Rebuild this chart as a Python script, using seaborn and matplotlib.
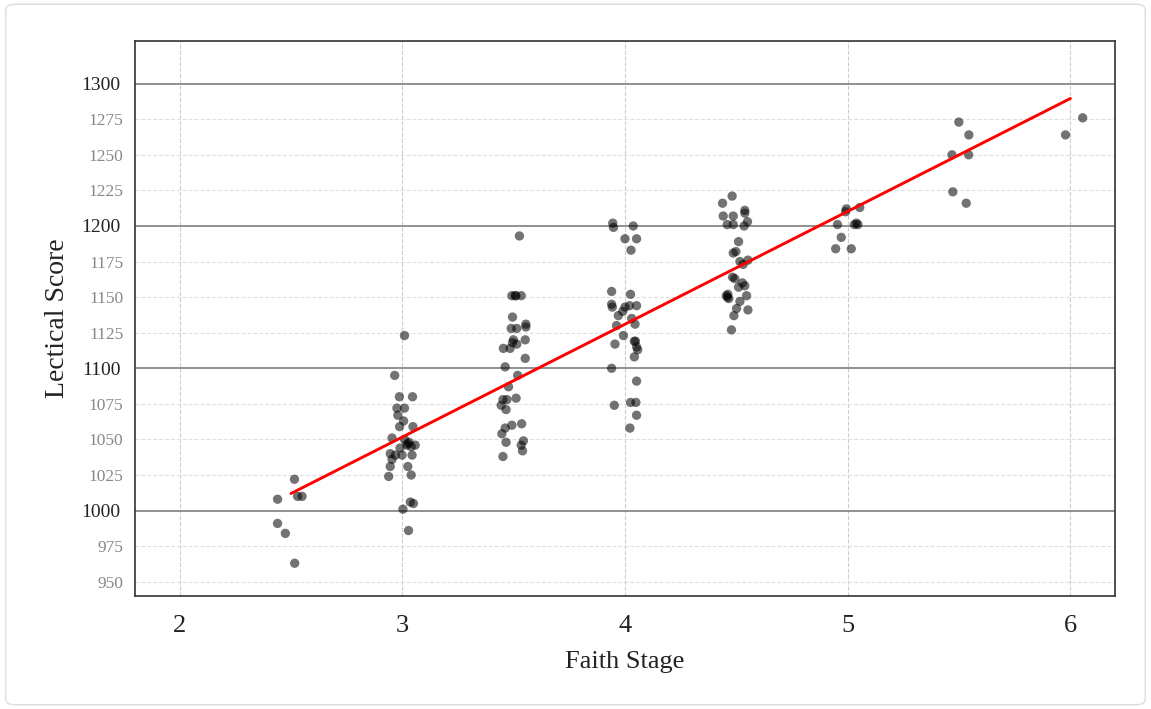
import numpy as np
import pandas as pd
import seaborn as sns
import matplotlib.pyplot as plt
from matplotlib.patches import FancyBboxPatch

# Faith stage (nominal), jittered x position as drawn, and lectical score
stage = [2.5] * 7 + [3.0] * 31 + [3.5] * 34 + [4.0] * 32 + [4.5] * 31 + [5.0] * 10 + [5.5] * 6 + [6.0] * 2
stage_x = [
    2.516, 2.44, 2.53, 2.55, 2.44, 2.475, 2.517,
    2.966, 2.987, 3.046, 2.976, 3.01, 2.98, 3.006, 2.988, 3.048, 2.954, 3.01, 3.02,
    3.058, 2.946, 2.969, 2.999, 3.044, 2.954, 2.946, 3.025, 2.939, 3.04, 3.036, 3.05,
    3.003, 3.028, 3.01, 3.03, 3.04, 2.99, 3.025,
    3.526, 3.492, 3.507, 3.534, 3.495, 3.489, 3.514, 3.555, 3.555, 3.499, 3.495, 3.552,
    3.454, 3.484, 3.514, 3.552, 3.462, 3.518, 3.477, 3.452, 3.47, 3.511, 3.444, 3.466,
    3.492, 3.462, 3.536, 3.447, 3.544, 3.534, 3.466, 3.54, 3.452, 3.51,
    3.945, 3.948, 4.037, 4.0, 4.052, 4.027, 3.94, 4.025, 3.94, 3.943, 4.0, 4.02, 4.052,
    3.99, 3.97, 4.03, 4.045, 3.962, 3.993, 3.955, 4.042, 4.052, 4.057, 4.042, 3.94,
    4.052, 3.952, 4.025, 4.049, 4.052, 4.022, 4.047,
    4.481, 4.438, 4.538, 4.538, 4.441, 4.486, 4.55, 4.459, 4.486, 4.535, 4.51, 4.486,
    4.498, 4.552, 4.516, 4.53, 4.483, 4.493, 4.527, 4.538, 4.51, 4.455, 4.46, 4.466,
    4.546, 4.516, 4.501, 4.552, 4.489, 4.478, 4.462,
    4.994, 4.99, 5.054, 4.954, 5.039, 5.046, 5.03, 4.971, 4.946, 5.016,
    5.499, 5.544, 5.468, 5.543, 5.472, 5.532,
    5.978, 6.055,
]
score = [
    1022, 1008, 1010, 1010, 991, 984, 963,
    1095, 1080, 1080, 1072, 1072, 1067, 1063, 1059, 1059, 1051, 1050, 1046,
    1046, 1040, 1039, 1039, 1039, 1036, 1031, 1031, 1024, 1025, 1006, 1005,
    1001, 986, 1123, 1048, 1045, 1044, 1047,
    1193, 1151, 1151, 1151, 1136, 1128, 1128, 1131, 1129, 1120, 1118, 1120,
    1114, 1114, 1117, 1107, 1101, 1095, 1087, 1078, 1078, 1079, 1074, 1071,
    1060, 1058, 1061, 1054, 1049, 1046, 1048, 1042, 1038, 1151,
    1202, 1199, 1200, 1191, 1191, 1183, 1154, 1152, 1145, 1143, 1143, 1144, 1144,
    1140, 1137, 1135, 1131, 1130, 1123, 1117, 1119, 1115, 1113, 1108, 1100,
    1091, 1074, 1076, 1076, 1067, 1058, 1119,
    1221, 1216, 1211, 1209, 1207, 1207, 1203, 1201, 1201, 1200, 1189, 1181,
    1182, 1176, 1175, 1173, 1164, 1163, 1160, 1158, 1157, 1151, 1150, 1149,
    1151, 1147, 1142, 1141, 1137, 1127, 1152,
    1212, 1210, 1213, 1201, 1202, 1201, 1201, 1192, 1184, 1184,
    1273, 1264, 1250, 1250, 1224, 1216,
    1264, 1276,
]

x_ticks = [2, 3, 4, 5, 6]
y_major = [1000, 1100, 1200, 1300]
y_minor = [950, 975, 1025, 1050, 1075, 1125, 1150, 1175, 1225, 1250, 1275]

df = pd.DataFrame({"stage": stage, "stage_x": stage_x, "score": score})

sns.set_style("white")
plt.rcParams["font.family"] = ["Liberation Serif", "DejaVu Serif"]

fig = plt.figure(figsize=(11.51, 7.09), dpi=100)
fig.patches.append(FancyBboxPatch((0.005, 0.006), 0.99, 0.988,
                                  boxstyle="round,pad=0,rounding_size=0.008",
                                  transform=fig.transFigure, facecolor="none",
                                  edgecolor="#dddddd", linewidth=1.0))
ax = fig.add_axes([0.1173, 0.1594, 0.8514, 0.7828])

sns.scatterplot(data=df, x="stage_x", y="score", ax=ax, color="black",
                alpha=0.55, s=45, edgecolor="none", zorder=3)
sns.regplot(data=df, x="stage", y="score", ax=ax, scatter=False, ci=None,
            line_kws={"color": "red", "linewidth": 2.1, "zorder": 4})

ax.set_xlim(1.8, 6.2)
ax.set_ylim(940, 1330)
ax.set_xticks(x_ticks)
ax.set_yticks(y_major)
ax.set_yticks(y_minor, minor=True)
ax.set_yticklabels([str(v) for v in y_minor], minor=True)

ax.grid(axis="x", color="#cccccc", linestyle="--", linewidth=0.8)
ax.grid(axis="y", which="major", color="#888888", linestyle="-", linewidth=1.3)
ax.grid(axis="y", which="minor", color="#e0e0e0", linestyle="--", linewidth=0.8)
ax.set_axisbelow(True)

ax.tick_params(axis="x", labelsize=19, length=6, width=1, pad=8, color="#555555", labelcolor="#222222")
ax.tick_params(axis="y", which="major", labelsize=14, length=7, width=1.3, color="#555555", labelcolor="#222222")
ax.tick_params(axis="y", which="minor", labelsize=12.5, length=5, width=1, color="#aaaaaa", labelcolor="#888888")

for sp in ax.spines.values():
    sp.set_color("#333333")
    sp.set_linewidth(1.2)

ax.set_xlabel("Faith Stage", fontsize=19, color="#222222", labelpad=10)
ax.set_ylabel("Lectical Score", fontsize=20, color="#222222", labelpad=8)

fig.savefig("out.png", dpi=100)
